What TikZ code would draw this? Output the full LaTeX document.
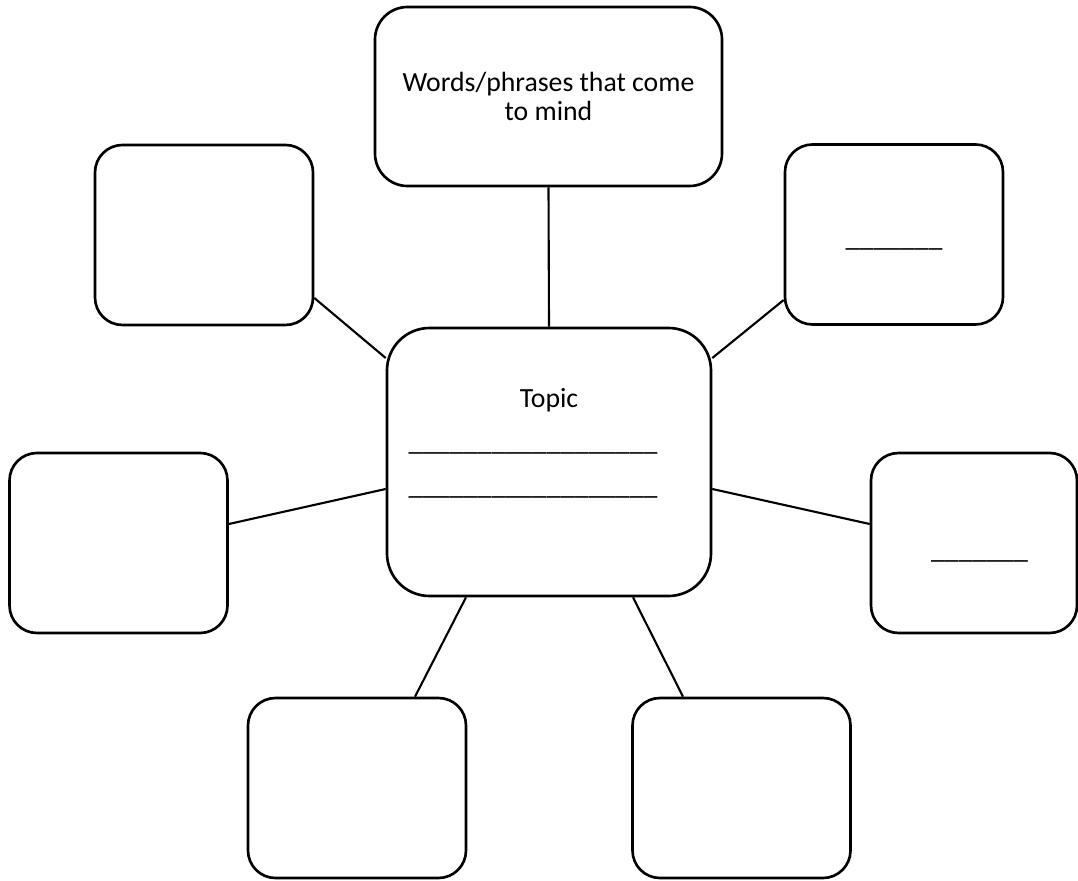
\documentclass[tikz,border=0pt]{standalone}
\usepackage{fontspec}
\setmainfont{Carlito}
\usepackage{tikz}

\begin{document}
\begin{tikzpicture}[font=\fontsize{15.8}{17}\selectfont,
      box/.style={draw, line width=1.5pt, rounded corners=0.55cm, inner sep=0pt,
        minimum width=4.36cm, minimum height=3.6cm, align=center},
      link/.style={draw, line width=1.2pt}]
    \useasboundingbox (0,0) rectangle (21.56,17.6);
    \node[box, minimum width=6.48cm, minimum height=5.36cm, rounded corners=0.85cm] (topic) at (10.98,8.36) {};
    \node[align=center, font=\fontsize{15.8}{24.7}\selectfont] (topictext) at ([yshift=0.38cm]topic.center)
        {Topic\\ \_\_\_\_\_\_\_\_\_\_\_\_\_\_\_\_\_\_\hspace*{0.64cm}\mbox{}\\
         \_\_\_\_\_\_\_\_\_\_\_\_\_\_\_\_\_\_\hspace*{0.64cm}\mbox{}};
    \node[box, minimum width=6.94cm, minimum height=3.58cm, rounded corners=0.65cm] (words) at (10.97,15.67)
        {Words/phrases that come\\to mind};
    \node[box] (tl) at (4.08,12.9) {};
    \node[box, text height=13.4pt, text depth=0pt] (tr) at (17.88,12.91) {\_\_\_\_\_\_\_};
    \node[box] (lf) at (2.37,6.74) {};
    \node[box, minimum width=4.12cm, text height=17.4pt, text depth=0pt] (rt) at (19.48,6.74)
        {\hspace*{0.22cm}\_\_\_\_\_\_\_};
    \node[box] (bl) at (7.14,1.84) {};
    \node[box] (br) at (14.83,1.84) {};
    \draw[link] (words.south) -- (topic.north);
    \draw[link] ([yshift=-1.26cm]tl.east) -- ([yshift=2.08cm]topic.west);
    \draw[link] ([yshift=-1.31cm]tr.west) -- ([yshift=2.08cm]topic.east);
    \draw[link] ([yshift=0.38cm]lf.east) -- ([yshift=-0.54cm]topic.west);
    \draw[link] ([yshift=-0.54cm]topic.east) -- ([yshift=0.38cm]rt.west);
    \draw[link] ([xshift=-1.66cm]topic.south) -- ([xshift=1.16cm]bl.north);
    \draw[link] ([xshift=1.68cm]topic.south) -- ([xshift=-1.17cm]br.north);
\end{tikzpicture}
\end{document}
